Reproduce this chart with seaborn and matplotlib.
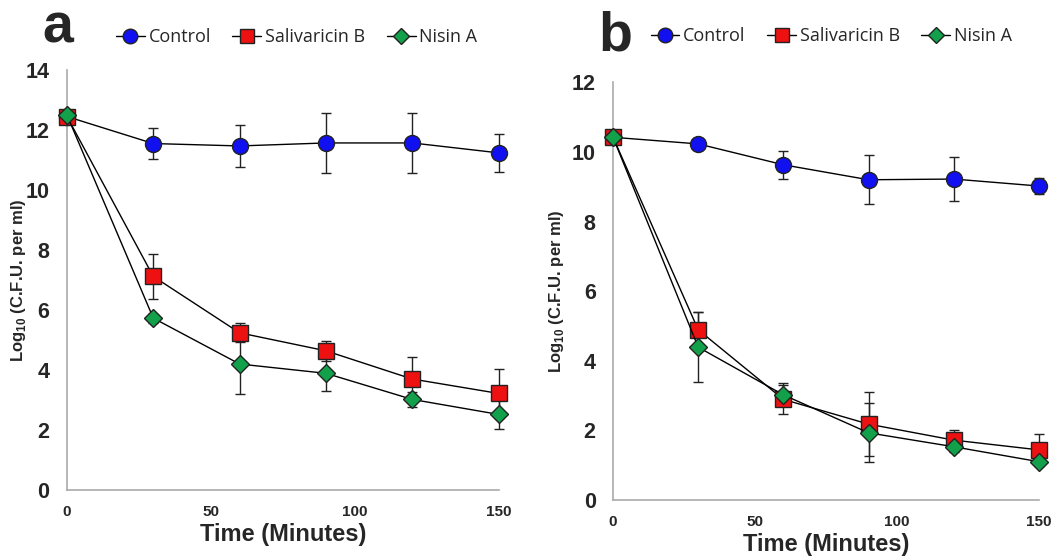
import numpy as np
import pandas as pd
import matplotlib
matplotlib.use("Agg")
import matplotlib.pyplot as plt
import seaborn as sns
from matplotlib.lines import Line2D

sns.set_style("white")
plt.rcParams['font.family'] = ['Liberation Sans', 'DejaVu Sans']
plt.rcParams['mathtext.fontset'] = 'custom'
plt.rcParams['mathtext.bf'] = 'Liberation Sans:bold'
plt.rcParams['mathtext.rm'] = 'Liberation Sans:bold'

time = [0, 30, 60, 90, 120, 150]
series = ["Control", "Salivaricin B", "Nisin A"]

# panel a
a_control = [12.45, 11.55, 11.47, 11.57, 11.57, 11.24]
a_control_err = [0.1, 0.53, 0.7, 1.0, 1.0, 0.63]
a_saliv = [12.45, 7.12, 5.24, 4.64, 3.70, 3.22]
a_saliv_err = [0.1, 0.75, 0.32, 0.33, 0.74, 0.82]
a_nisin = [12.5, 5.73, 4.2, 3.89, 3.02, 2.52]
a_nisin_err = [0.1, 0.15, 1.0, 0.6, 0.25, 0.47]

# panel b
b_control = [10.42, 10.23, 9.63, 9.20, 9.22, 9.02]
b_control_err = [0.05, 0.1, 0.41, 0.7, 0.64, 0.22]
b_saliv = [10.42, 4.89, 2.89, 2.18, 1.72, 1.44]
b_saliv_err = [0.05, 0.52, 0.42, 0.93, 0.29, 0.45]
b_nisin = [10.42, 4.39, 3.02, 1.93, 1.53, 1.10]
b_nisin_err = [0.05, 1.0, 0.33, 0.85, 0.15, 0.1]

colors = {"Control": "#1010f0", "Salivaricin B": "#ee1111", "Nisin A": "#12a04a"}
markers = {"Control": "o", "Salivaricin B": "s", "Nisin A": "D"}
msizes = {"Control": 11.5, "Salivaricin B": 11.5, "Nisin A": 9}

fig = plt.figure(figsize=(10.63, 5.56), dpi=100)
ax_a = fig.add_axes([0.063, 0.1187, 0.406, 0.7553])
ax_b = fig.add_axes([0.5767, 0.1007, 0.4007, 0.7513])

panels = [
    (ax_a, [a_control, a_saliv, a_nisin], [a_control_err, a_saliv_err, a_nisin_err], 14, -0.090),
    (ax_b, [b_control, b_saliv, b_nisin], [b_control_err, b_saliv_err, b_nisin_err], 12, -0.110),
]

for ax, vals, errs, ymax, labx in panels:
    for name, v, e in zip(series, vals, errs):
        ax.errorbar(time, v, yerr=e, fmt='none', ecolor='#222222', elinewidth=1,
                    capsize=3.5, capthick=1, clip_on=False, zorder=2)
    for name, v in zip(series, vals):
        df = pd.DataFrame({"time": time, "value": v})
        sns.lineplot(data=df, x="time", y="value", ax=ax, color="black", linewidth=1,
                     marker=markers[name], markersize=msizes[name],
                     markerfacecolor=colors[name], markeredgecolor="#222222",
                     markeredgewidth=1, clip_on=False, zorder=3)
    ax.set_xlim(0, 150)
    ax.set_ylim(0, ymax)
    ax.set_xticks([0, 50, 100, 150])
    ax.set_yticks(np.arange(0, ymax + 1, 2))
    for s in ["top", "right"]:
        ax.spines[s].set_visible(False)
    for s in ["left", "bottom"]:
        ax.spines[s].set_color("#aaaaaa")
        ax.spines[s].set_linewidth(1.2)
    ax.tick_params(axis="both", direction="out", length=4.5, width=1, color="#aaaaaa")
    ax.tick_params(axis="y", labelsize=15.5, pad=8)
    ax.tick_params(axis="x", labelsize=11, pad=6)
    for lab in ax.get_xticklabels() + ax.get_yticklabels():
        lab.set_fontweight("bold")
    ax.set_xlabel("Time (Minutes)", fontsize=17, fontweight="bold", labelpad=3)
    ax.set_ylabel("Log$_{\\mathbf{10}}$ (C.F.U. per ml)", fontsize=12, fontweight="bold")
    ax.yaxis.set_label_coords(labx, 0.5)

handles = [Line2D([0], [0], color="black", linewidth=1, marker=markers[n],
                  markersize=msizes[n] - 1, markerfacecolor=colors[n],
                  markeredgecolor="#222222") for n in series]

fig.text(0.040, 0.9227, "a", fontsize=40, fontweight="bold", va="baseline")
fig.text(0.563, 0.910, "b", fontsize=40, fontweight="bold", va="baseline")
fig.legend(handles, series, loc="center", bbox_to_anchor=(0.279, 0.933), ncol=3,
           frameon=False, handlelength=1.6, handletextpad=0.2,
           columnspacing=1.2, prop={"family": "Open Sans", "size": 13})
fig.legend(handles, series, loc="center", bbox_to_anchor=(0.782, 0.935), ncol=3,
           frameon=False, handlelength=1.6, handletextpad=0.2,
           columnspacing=1.2, prop={"family": "Open Sans", "size": 13})

fig.savefig("out.png", dpi=100)
